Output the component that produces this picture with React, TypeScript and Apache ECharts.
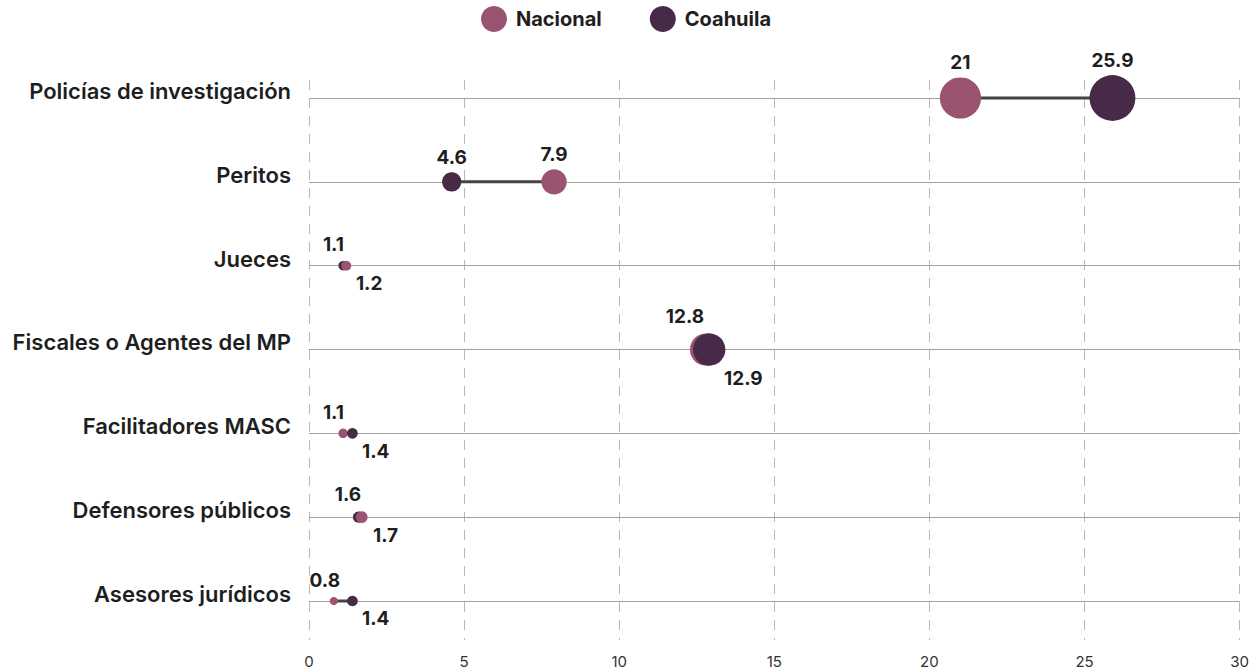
import React, { useEffect, useRef } from "react";
import * as echarts from "echarts";

const categories = [
  "Policías de investigación",
  "Peritos",
  "Jueces",
  "Fiscales o Agentes del MP",
  "Facilitadores MASC",
  "Defensores públicos",
  "Asesores jurídicos",
];
const nacional = [21, 7.9, 1.2, 12.8, 1.1, 1.7, 0.8];
const coahuila = [25.9, 4.6, 1.1, 12.9, 1.4, 1.6, 1.4];
const xTicks = [0, 5, 10, 15, 20, 25, 30];

const PINK = "#9a5471";
const DARK = "#462a47";
const TEXT = "#1e1e1e";
const FONT = "Inter, 'Noto Sans', sans-serif";

export default function App() {
  const ref = useRef<HTMLDivElement>(null);

  useEffect(() => {
    document.body.style.margin = "0";
    if (!ref.current) return;
    const chart = echarts.init(ref.current, undefined, { renderer: "svg" });

    const sizeOf = (v: number) => 9 * Math.sqrt(v);
    const CLOSE = 2;

    const pts: any[] = [];
    categories.forEach((c, i) => {
      const n = nacional[i];
      const k = coahuila[i];
      const close = Math.abs(n - k) < CLOSE;
      const items = [
        { v: n, color: PINK, other: k },
        { v: k, color: DARK, other: n },
      ];
      items.forEach((it) => {
        const s = sizeOf(it.v);
        const r = s / 2;
        let label: any;
        if (!close) {
          label = { show: true, position: "top", distance: 5 };
        } else if (it.v <= it.other) {
          label = { show: true, position: "top", distance: 7, offset: [-(r + 5), 0] };
        } else {
          label = { show: true, position: "bottom", distance: 3, offset: [r + 18, 0] };
        }
        pts.push({
          value: [it.v, i],
          symbolSize: s,
          itemStyle: { color: it.color, opacity: 1 },
          label: {
            ...label,
            formatter: String(it.v),
            fontSize: 19,
            fontWeight: "bold",
            color: TEXT,
            fontFamily: FONT,
          },
        });
      });
    });
    pts.sort((a, b) => a.symbolSize - b.symbolSize);

    const option: any = {
      animation: false,
      textStyle: { fontFamily: FONT },
      legend: {
        top: 1,
        left: "center",
        icon: "circle",
        itemWidth: 26,
        itemHeight: 26,
        itemGap: 48,
        data: ["Nacional", "Coahuila"],
        textStyle: {
          fontSize: 20,
          fontWeight: "bold",
          color: TEXT,
          fontFamily: FONT,
          padding: [0, 0, 0, 4],
        },
      },
      grid: { left: 309, right: 11, top: 80, bottom: 31, containLabel: false },
      xAxis: {
        type: "value",
        min: 0,
        max: 30,
        interval: 5,
        axisLine: { show: false },
        axisTick: { show: false },
        axisLabel: {
          color: "#333",
          fontSize: 15,
          margin: 14,
          fontFamily: FONT,
          formatter: (v: number) => (xTicks.includes(v) ? String(v) : ""),
        },
        splitLine: {
          show: true,
          lineStyle: { color: "#b8b8b8", width: 1, type: [10, 8] },
        },
      },
      yAxis: {
        type: "value",
        inverse: true,
        min: -0.2147,
        max: 6.4652,
        axisLine: { show: false },
        axisTick: { show: false },
        splitLine: { show: false },
        axisLabel: {
          customValues: categories.map((_, i) => i),
          formatter: (v: number) => categories[Math.round(v)] ?? "",
          fontSize: 22,
          fontWeight: 600,
          color: TEXT,
          margin: 18,
          verticalAlign: "bottom",
          lineHeight: 14,
          fontFamily: FONT,
        },
      },
      series: [
        {
          name: "connector",
          type: "custom",
          z: 1,
          silent: true,
          encode: { x: [0, 1], y: 2 },
          data: categories.map((_, i) => [nacional[i], coahuila[i], i]),
          renderItem: (params: any, api: any) => {
            const a = api.coord([api.value(0), api.value(2)]);
            const b = api.coord([api.value(1), api.value(2)]);
            return {
              type: "line",
              shape: { x1: a[0], y1: a[1], x2: b[0], y2: b[1] },
              style: { stroke: "#444", lineWidth: 3 },
              z2: 10,
            };
          },
          markLine: {
            silent: true,
            symbol: "none",
            z: 1,
            label: { show: false },
            lineStyle: { color: "#a0a0a0", width: 1, type: "solid" },
            data: categories.map((_, i) => ({ yAxis: i })),
          },
        },
        {
          name: "points",
          type: "scatter",
          z: 5,
          silent: true,
          emphasis: { disabled: true },
          itemStyle: { opacity: 1 },
          data: pts,
        },
        { name: "Nacional", type: "scatter", data: [], itemStyle: { color: PINK, opacity: 1 } },
        { name: "Coahuila", type: "scatter", data: [], itemStyle: { color: DARK, opacity: 1 } },
      ],
    };

    chart.setOption(option);
    return () => chart.dispose();
  }, []);

  return <div ref={ref} style={{ width: 1252, height: 671 }} />;
}
